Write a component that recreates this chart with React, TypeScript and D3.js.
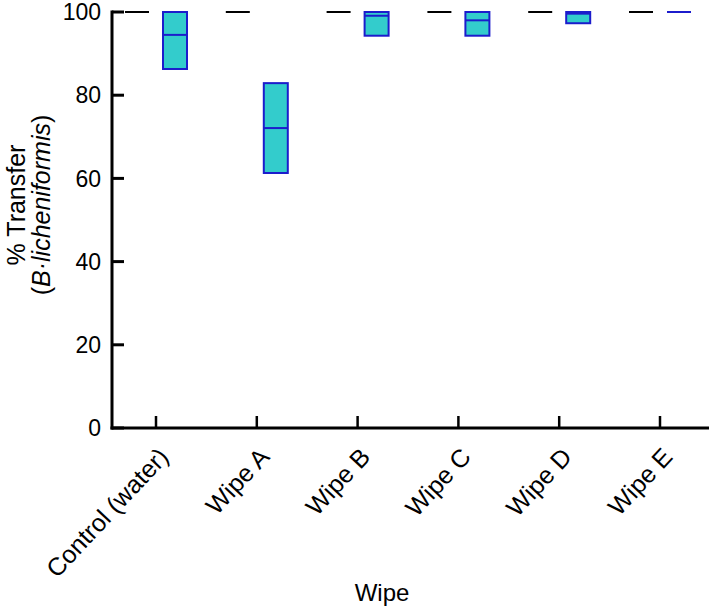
import React from 'react';
import * as d3 from 'd3';

// categories along the x axis
const categories = ['Control (water)', 'Wipe A', 'Wipe B', 'Wipe C', 'Wipe D', 'Wipe E'];

// reference series (black dashes) - all at 100 %
const refValues = [100, 100, 100, 100, 100, 100];

// wipe series box values (% transfer)
const wipeQ3 = [100, 82.9, 100, 100, 100, 100];
const wipeMedian = [94.5, 72.1, 99.1, 98.0, 99.6, 100];
const wipeQ1 = [86.3, 61.3, 94.3, 94.3, 97.3, 100];

const yTicks = [0, 20, 40, 60, 80, 100];

const W = 709;
const H = 607;
const FONT = '"Liberation Sans", Arial, Helvetica, sans-serif';

const App: React.FC = () => {
  const x = d3.scalePoint<string>().domain(categories).range([156, 660]);
  const y = d3.scaleLinear().domain([0, 100]).range([428, 12]);

  const boxW = 24;
  const offset = 19;
  const axisX = 112;
  const axisY = y(0);

  return (
    <svg width={W} height={H} style={{ display: 'block', position: 'absolute', left: 0, top: 0 }} fontFamily={FONT}>
      <rect width={W} height={H} fill="#fff" />

      {/* y axis */}
      <line x1={axisX} x2={axisX} y1={y(100) - 1.5} y2={axisY + 1.5} stroke="#000" strokeWidth={3} />
      {yTicks.map(t => (
        <g key={t}>
          <line x1={axisX} x2={axisX + 12} y1={y(t)} y2={y(t)} stroke="#000" strokeWidth={3} />
          <text x={101} y={y(t)} dy="0.36em" textAnchor="end" fontSize={23}>{t}</text>
        </g>
      ))}

      {/* x axis */}
      <line x1={axisX - 1.5} x2={W} y1={axisY} y2={axisY} stroke="#000" strokeWidth={3} />
      {categories.map(c => (
        <g key={c}>
          <line x1={x(c)!} x2={x(c)!} y1={axisY} y2={axisY - 12} stroke="#000" strokeWidth={2.5} />
          <text
            transform={`translate(${x(c)! + 14},${axisY + 30}) rotate(-47)`}
            textAnchor="end"
            fontSize={25}
          >{c}</text>
        </g>
      ))}

      {/* reference dashes */}
      {categories.map((c, i) => (
        <line
          key={'r' + c}
          x1={x(c)! - offset - boxW / 2}
          x2={x(c)! - offset + boxW / 2}
          y1={y(refValues[i])}
          y2={y(refValues[i])}
          stroke="#000"
          strokeWidth={2}
        />
      ))}

      {/* wipe boxes */}
      {categories.map((c, i) => {
        const cx = x(c)! + offset;
        const top = y(wipeQ3[i]);
        const bot = y(wipeQ1[i]);
        return (
          <g key={'b' + c}>
            <rect
              x={cx - boxW / 2}
              y={top}
              width={boxW}
              height={Math.max(bot - top, 0)}
              fill="#33CCCC"
              stroke="#1C1CCC"
              strokeWidth={2}
            />
            <line x1={cx - boxW / 2} x2={cx + boxW / 2} y1={y(wipeMedian[i])} y2={y(wipeMedian[i])} stroke="#1C1CCC" strokeWidth={2} />
          </g>
        );
      })}

      {/* axis titles */}
      <text transform="translate(25,205) rotate(-90)" textAnchor="middle" fontSize={25}>% Transfer</text>
      <text transform="translate(50,205) rotate(-90)" textAnchor="middle" fontSize={25}>
        (<tspan fontStyle="italic">B·licheniformis</tspan>)
      </text>
      <text x={382} y={601} textAnchor="middle" fontSize={24}>Wipe</text>
    </svg>
  );
};

export default App;
